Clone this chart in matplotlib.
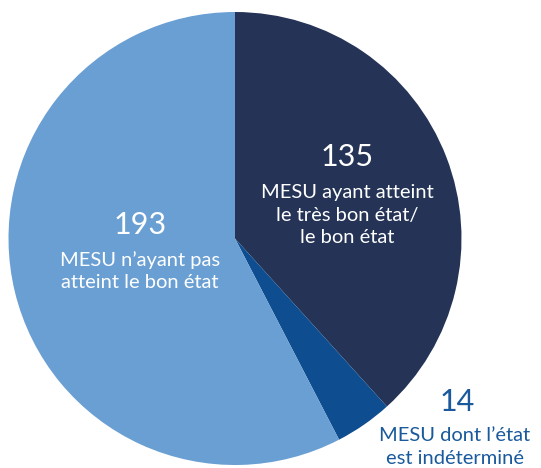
import matplotlib.pyplot as plt

plt.rcParams['font.family'] = ['Lato', 'DejaVu Sans']

# parts d'angle (%)
shares = [38.3, 4.1, 57.6]
numbers = ['135', '14', '193']
labels = ['MESU ayant atteint\nle très bon état/\nle bon état',
          'MESU dont l’état\nest indéterminé',
          'MESU n’ayant pas\natteint le bon état']
colors = ['#243356', '#0e4d8f', '#6a9fd4']

fig = plt.figure(figsize=(5.41, 4.68), dpi=100)
ax = fig.add_axes([0, 0, 1, 1])

ax.pie(shares, colors=colors, startangle=90, counterclock=False,
       center=(235, 229.5), radius=226.5, frame=True,
       wedgeprops=dict(linewidth=0))
ax.set_xlim(0, 541)
ax.set_ylim(0, 468)
ax.set_aspect('equal')
ax.axis('off')

# positions de texte (pixels, y depuis le haut)
num_pos = [(347, 157), (457, 402), (140, 225)]
lab_pos = [(347, 215), (455, 447), (140, 271)]
txt_colors = ['white', '#1a5a9c', 'white']

for i in range(3):
    ax.text(num_pos[i][0], 468 - num_pos[i][1], numbers[i], ha='center', va='center',
            fontsize=22, color=txt_colors[i])
    ax.text(lab_pos[i][0], 468 - lab_pos[i][1], labels[i], ha='center', va='center',
            fontsize=14.5, color=txt_colors[i], linespacing=1.4)

fig.savefig('out.png', dpi=100)
